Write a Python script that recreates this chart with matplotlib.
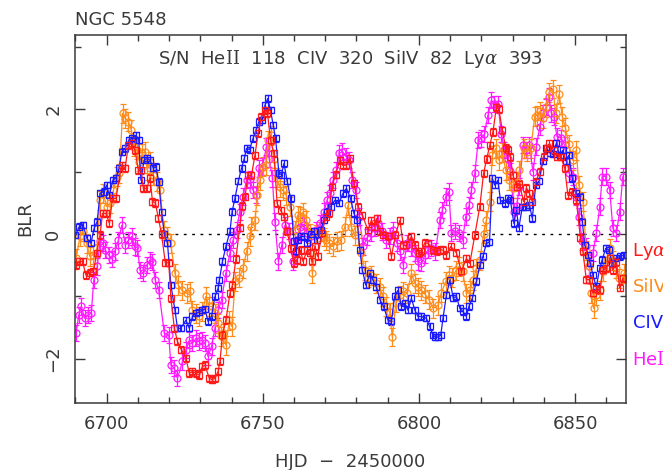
import numpy as np
import matplotlib
matplotlib.use("Agg")
import matplotlib.pyplot as plt
from matplotlib.ticker import MultipleLocator

plt.rcParams["font.family"] = "DejaVu Sans"
plt.rcParams["mathtext.fontset"] = "custom"
plt.rcParams["mathtext.rm"] = "DejaVu Serif"
plt.rcParams["mathtext.it"] = "DejaVu Serif:italic"

# HJD - 2450000 and normalised BLR light curves, one set per line
lya_t = [6690.2, 6691.3, 6692.3, 6693.4, 6694.7, 6695.8, 6696.8, 6697.9, 6698.7, 6699.8,
         6700.9, 6701.9, 6703.0, 6704.8, 6705.9, 6707.0, 6708.0, 6709.1, 6710.2, 6711.0,
         6711.8, 6712.9, 6713.9, 6714.7, 6715.6, 6716.6, 6717.6, 6718.8, 6719.9, 6720.6,
         6721.7, 6722.7, 6723.9, 6725.4, 6726.5, 6727.5, 6728.6, 6729.7, 6730.7, 6731.5,
         6732.9, 6733.8, 6734.7, 6735.7, 6736.3, 6737.1, 6738.2, 6739.5, 6740.3, 6741.4,
         6742.6, 6743.5, 6744.3, 6745.3, 6746.4, 6747.5, 6748.5, 6749.6, 6750.7, 6751.5,
         6752.5, 6753.6, 6754.6, 6755.7, 6756.8, 6757.8, 6758.9, 6760.0, 6761.0, 6762.1,
         6762.9, 6764.2, 6765.0, 6765.8, 6766.7, 6767.6, 6769.0, 6770.1, 6771.1, 6772.2,
         6773.3, 6774.7, 6775.6, 6776.6, 6777.9, 6779.2, 6780.5, 6781.9, 6783.7, 6784.8,
         6785.6, 6786.5, 6787.4, 6788.5, 6790.1, 6791.2, 6792.5, 6793.9, 6795.0, 6796.0,
         6797.6, 6798.7, 6800.1, 6800.8, 6801.9, 6803.0, 6804.5, 6805.7, 6806.8, 6807.7,
         6808.8, 6810.2, 6812.0, 6813.6, 6815.2, 6816.3, 6817.9, 6819.5, 6820.7, 6821.7,
         6822.7, 6823.7, 6824.8, 6825.6, 6826.7, 6827.8, 6828.6, 6829.3, 6830.1, 6831.4,
         6832.2, 6833.5, 6834.4, 6835.4, 6836.3, 6837.4, 6838.7, 6839.9, 6841.0, 6841.8,
         6843.1, 6844.2, 6845.4, 6846.7, 6847.7, 6849.1, 6850.4, 6851.7, 6852.5, 6853.6,
         6854.6, 6855.7, 6856.8, 6857.9, 6858.9, 6860.0, 6861.1, 6862.1, 6863.2, 6864.3,
         6865.3]
lya = [-0.50, -0.44, -0.44, -0.66, -0.62, -0.60, -0.31, -0.02, 0.33, 0.33,
       0.17, 0.57, 0.57, 1.10, 1.05, 1.42, 1.45, 1.34, 1.02, 1.02,
       0.73, 0.73, 0.90, 0.52, 0.50, 0.25, 0.00, -0.46, -0.46, -1.03,
       -1.51, -1.72, -1.85, -1.99, -2.23, -2.20, -2.23, -2.26, -2.12, -2.10,
       -2.31, -2.33, -2.31, -2.20, -2.04, -1.62, -1.38, -0.95, -0.82, -0.40,
       0.10, 0.45, 0.60, 0.94, 0.94, 1.26, 1.61, 1.88, 1.98, 1.94,
       1.50, 1.29, 0.49, 0.38, 0.28, 0.05, -0.23, -0.47, -0.42, -0.26,
       -0.44, -0.26, -0.30, -0.44, -0.20, -0.36, 0.01, 0.28, 0.33, 0.76,
       0.95, 1.18, 1.10, 1.10, 1.21, 0.81, 0.44, 0.30, 0.06, 0.22,
       0.12, 0.25, 0.04, -0.01, -0.04, -0.36, -0.01, 0.22, -0.18, -0.18,
       -0.04, -0.18, -0.31, -0.28, -0.14, -0.15, -0.26, -0.28, -0.25, -0.26,
       -0.34, -0.20, -0.30, -0.60, -0.39, -0.47, -0.02, 0.44, 0.97, 1.20,
       1.42, 1.63, 2.03, 2.00, 1.66, 1.38, 1.35, 1.23, 0.94, 0.76,
       0.80, 0.52, 0.74, 0.65, 0.52, 0.84, 1.00, 1.24, 1.37, 1.45,
       1.34, 1.24, 1.24, 1.05, 0.62, 0.68, 0.54, -0.06, -0.28, -0.73,
       -0.73, -0.95, -0.88, -0.90, -0.58, -0.55, -0.39, -0.58, -0.45, -0.86,
       -0.71]

siiv_t = [6690.2, 6691.5, 6692.4, 6693.6, 6694.7, 6695.7, 6696.8, 6697.9, 6699.0, 6700.0,
          6701.1, 6702.2, 6703.3, 6704.1, 6705.1, 6706.0, 6707.0, 6707.9, 6708.8, 6709.6,
          6710.5, 6711.5, 6712.2, 6713.0, 6713.9, 6714.9, 6716.0, 6717.1, 6718.4, 6719.5,
          6720.5, 6721.9, 6723.0, 6724.1, 6725.6, 6726.6, 6727.5, 6728.6, 6729.6, 6730.7,
          6731.8, 6732.9, 6733.8, 6734.7, 6735.7, 6736.5, 6737.4, 6738.2, 6739.3, 6740.1,
          6741.2, 6742.5, 6743.7, 6744.8, 6745.9, 6746.4, 6747.5, 6748.3, 6749.1, 6750.2,
          6751.0, 6751.7, 6752.6, 6753.5, 6754.5, 6755.5, 6756.5, 6757.5, 6758.7, 6760.3,
          6761.2, 6761.9, 6762.9, 6764.0, 6765.0, 6765.9, 6767.2, 6768.5, 6769.6, 6770.4,
          6771.3, 6772.5, 6773.8, 6775.0, 6776.3, 6777.3, 6778.3, 6779.4, 6780.5, 6781.6,
          6782.6, 6783.6, 6784.8, 6786.4, 6787.4, 6788.5, 6789.6, 6790.6, 6791.5, 6792.6,
          6793.8, 6795.0, 6796.3, 6797.6, 6798.7, 6799.8, 6800.8, 6801.9, 6803.2, 6804.5,
          6806.1, 6807.2, 6808.6, 6809.6, 6810.7, 6811.9, 6812.9, 6814.0, 6815.2, 6816.3,
          6817.4, 6818.4, 6819.5, 6820.7, 6821.6, 6822.7, 6823.5, 6824.6, 6825.6, 6826.7,
          6827.8, 6828.9, 6830.1, 6831.4, 6832.2, 6833.5, 6834.5, 6835.8, 6837.1, 6837.9,
          6838.9, 6839.8, 6840.8, 6841.8, 6842.9, 6843.8, 6844.9, 6845.9, 6846.9, 6848.0,
          6849.2, 6850.4, 6851.2, 6852.5, 6853.6, 6854.6, 6855.2, 6855.9, 6856.8, 6857.9,
          6859.0, 6860.2, 6861.3, 6862.3, 6863.1, 6864.0, 6865.8]
siiv = [-0.39, -0.04, 0.04, -0.15, -0.36, -0.33, -0.31, 0.54, 0.65, 0.44,
        0.49, 0.70, 0.92, 0.97, 1.93, 1.85, 1.80, 1.67, 1.40, 1.35,
        1.16, 1.29, 1.32, 1.02, 1.16, 0.94, 0.84, 0.70, 0.06, -0.04,
        -0.15, -0.63, -0.82, -0.90, -0.95, -0.92, -1.22, -1.27, -1.32, -1.24,
        -1.00, -1.16, -1.16, -1.27, -1.43, -1.64, -1.59, -1.78, -1.38, -1.48,
        -0.76, -0.70, -0.55, -0.28, -0.04, 0.12, 0.22, 0.62, 0.86, 1.08,
        1.10, 1.50, 1.58, 1.20, 0.90, 0.75, 0.70, 0.62, 0.44, 0.06,
        0.30, 0.28, 0.35, 0.22, 0.01, -0.63, 0.00, 0.04, -0.05, -0.10,
        -0.15, -0.20, -0.12, -0.10, 0.12, 0.46, 0.12, -0.02, -0.02, -0.31,
        -0.58, -0.70, -0.66, -0.79, -0.85, -1.00, -1.16, -1.25, -1.65, -1.10,
        -0.98, -0.92, -0.95, -0.63, -0.79, -0.85, -0.90, -0.96, -1.05, -1.19,
        -1.14, -0.94, -0.76, -0.66, -0.70, -0.58, -0.52, -0.60, -0.95, -0.90,
        -0.74, -0.55, -0.42, 0.00, 0.22, 0.52, 1.26, 1.37, 1.18, 1.30,
        1.02, 0.86, 0.73, 0.84, 1.02, 1.37, 1.32, 1.37, 1.88, 1.90,
        1.97, 1.85, 2.03, 2.27, 2.32, 1.93, 2.24, 1.88, 1.70, 1.44,
        1.18, 1.34, 0.78, 0.52, -0.26, -0.52, -0.95, -1.19, -0.98, -0.90,
        -0.60, -0.42, -0.23, -0.42, -0.55, -0.71, -0.63]

civ_t = [6690.0, 6691.3, 6692.5, 6693.7, 6695.0, 6696.0, 6697.0, 6697.9, 6699.1, 6700.0,
         6700.9, 6702.0, 6703.0, 6704.0, 6704.9, 6706.0, 6707.1, 6708.1, 6709.4, 6710.3,
         6711.0, 6712.0, 6713.0, 6713.9, 6715.0, 6715.8, 6716.7, 6717.6, 6718.5, 6719.5,
         6720.6, 6721.9, 6722.7, 6723.7, 6725.4, 6726.5, 6727.5, 6728.6, 6729.6, 6730.7,
         6731.5, 6732.5, 6733.6, 6734.7, 6735.7, 6736.1, 6737.1, 6738.2, 6739.5, 6740.2,
         6741.1, 6742.2, 6743.2, 6744.1, 6744.8, 6745.8, 6746.9, 6747.8, 6748.8, 6749.9,
         6750.7, 6751.6, 6752.5, 6753.3, 6754.1, 6755.2, 6756.0, 6756.8, 6757.8, 6758.9,
         6760.0, 6760.5, 6761.3, 6762.1, 6763.2, 6764.2, 6765.3, 6766.4, 6767.4, 6768.5,
         6769.6, 6770.6, 6771.7, 6773.1, 6774.4, 6775.7, 6776.8, 6778.1, 6779.2, 6780.2,
         6781.1, 6781.9, 6783.0, 6784.3, 6785.3, 6786.4, 6787.6, 6788.7, 6790.1, 6791.2,
         6792.2, 6793.3, 6794.4, 6795.5, 6796.5, 6797.6, 6798.7, 6799.7, 6800.8, 6802.4,
         6803.4, 6804.5, 6805.3, 6806.1, 6807.0, 6807.7, 6808.8, 6809.9, 6811.0, 6812.0,
         6813.1, 6814.1, 6815.2, 6816.0, 6817.1, 6818.4, 6819.5, 6820.5, 6821.6, 6822.6,
         6823.5, 6824.3, 6825.3, 6826.1, 6827.5, 6828.4, 6829.3, 6830.4, 6831.2, 6832.0,
         6833.1, 6834.2, 6835.4, 6836.3, 6837.4, 6838.5, 6839.7, 6840.8, 6841.9, 6842.9,
         6844.0, 6845.1, 6846.1, 6847.0, 6848.0, 6849.1, 6850.2, 6851.5, 6852.3, 6853.1,
         6854.2, 6854.9, 6855.7, 6856.8, 6857.9, 6858.7, 6859.8, 6860.8, 6861.9, 6863.2,
         6864.3, 6865.6]
civ = [-0.02, 0.12, 0.14, -0.07, -0.15, 0.09, 0.20, 0.65, 0.68, 0.78,
       0.62, 0.86, 0.90, 1.05, 1.32, 1.37, 1.50, 1.53, 1.58, 1.50,
       0.86, 1.18, 1.21, 1.18, 1.05, 1.08, 0.84, 0.35, 0.00, -0.15,
       -0.82, -1.22, -1.51, -1.51, -1.38, -1.51, -1.32, -1.27, -1.25, -1.22,
       -1.20, -1.40, -1.32, -1.00, -0.87, -0.74, -0.44, -0.20, 0.04, 0.36,
       0.57, 0.85, 1.05, 1.21, 1.37, 1.35, 1.53, 1.66, 1.80, 1.82,
       2.06, 2.17, 1.98, 1.75, 1.53, 0.97, 0.95, 1.13, 0.85, 0.57,
       -0.12, -0.28, -0.10, -0.04, -0.04, -0.15, 0.00, 0.04, -0.10, 0.06,
       0.22, 0.36, 0.44, 0.54, 0.50, 0.65, 0.73, 0.57, 0.33, 0.22,
       -0.26, -0.58, -0.82, -0.63, -0.74, -0.85, -1.06, -1.16, -1.38, -1.40,
       -1.00, -0.90, -1.16, -1.11, -1.22, -1.03, -1.22, -1.32, -1.32, -1.35,
       -1.48, -1.62, -1.65, -1.65, -1.62, -1.35, -0.98, -0.74, -1.03, -1.00,
       -1.19, -1.24, -1.32, -1.16, -1.03, -0.76, -0.50, -0.36, -0.15, -0.13,
       0.89, 0.78, 0.86, 0.54, 0.49, 0.57, 0.54, 0.17, 0.38, 0.10,
       0.43, 0.44, 0.46, 0.25, 0.78, 0.85, 1.17, 1.37, 1.30, 1.28,
       1.45, 1.26, 1.34, 1.17, 1.26, 0.89, 0.65, 0.60, 0.20, -0.18,
       -0.34, -0.47, -0.66, -0.84, -0.55, -0.41, -0.23, -0.25, -0.47, -0.39,
       -0.36, -0.34]

heii_t = [6690.2, 6691.1, 6691.9, 6693.0, 6694.0, 6695.1, 6695.9, 6697.0, 6697.9, 6698.8,
          6699.6, 6700.7, 6701.7, 6702.6, 6703.8, 6704.9, 6706.0, 6707.0, 6708.1, 6709.0,
          6709.9, 6710.7, 6711.8, 6712.8, 6713.9, 6714.7, 6715.6, 6716.7, 6718.5, 6719.9,
          6720.6, 6721.7, 6722.7, 6724.3, 6725.4, 6726.5, 6727.5, 6728.6, 6729.6, 6730.7,
          6731.5, 6732.5, 6733.6, 6734.7, 6735.7, 6736.8, 6738.2, 6739.5, 6740.5, 6741.6,
          6742.6, 6743.7, 6744.8, 6745.8, 6746.9, 6748.0, 6748.8, 6749.9, 6751.2, 6752.1,
          6753.1, 6753.9, 6755.0, 6756.1, 6757.1, 6758.4, 6759.8, 6760.9, 6762.0, 6763.1,
          6764.2, 6765.6, 6767.0, 6768.3, 6769.6, 6770.6, 6771.5, 6772.5, 6773.6, 6774.5,
          6775.5, 6776.5, 6777.6, 6778.7, 6779.8, 6780.9, 6782.1, 6783.5, 6784.8, 6785.8,
          6786.9, 6788.3, 6789.5, 6790.6, 6791.7, 6793.0, 6794.0, 6795.0, 6796.3, 6797.6,
          6798.7, 6799.7, 6800.8, 6801.9, 6803.0, 6804.0, 6805.3, 6806.7, 6807.5, 6808.6,
          6809.6, 6810.4, 6811.6, 6812.8, 6814.0, 6815.0, 6816.1, 6816.8, 6817.9, 6819.0,
          6820.0, 6821.0, 6822.1, 6823.2, 6824.2, 6825.3, 6826.4, 6827.4, 6828.5, 6829.3,
          6830.4, 6831.3, 6832.2, 6833.3, 6834.3, 6835.4, 6836.5, 6837.6, 6838.7, 6839.8,
          6840.8, 6841.6, 6842.4, 6843.2, 6844.2, 6845.5, 6846.7, 6848.1, 6849.2, 6850.4,
          6851.2, 6852.3, 6853.6, 6854.4, 6855.7, 6856.8, 6857.9, 6858.7, 6859.8, 6861.1,
          6862.1, 6863.2, 6864.3, 6865.3]
heii = [-1.59, -1.30, -1.16, -1.35, -1.30, -1.27, -0.74, -0.52, -0.12, -0.15,
        -0.26, -0.34, -0.40, -0.28, -0.10, 0.14, -0.18, -0.10, -0.04, -0.20,
        -0.22, -0.58, -0.63, -0.50, -0.42, -0.45, -0.74, -0.90, -1.59, -1.62,
        -2.10, -2.15, -2.31, -2.04, -1.86, -1.70, -1.75, -1.67, -1.72, -1.70,
        -1.75, -1.96, -1.80, -1.51, -1.22, -1.06, -0.63, -0.31, -0.10, 0.06,
        0.35, 0.60, 0.86, 0.88, 0.70, 0.62, 1.05, 1.08, 1.40, 1.20,
        0.89, 0.20, -0.44, -0.18, 0.14, 0.05, -0.44, -0.10, 0.12, 0.15,
        0.01, -0.04, 0.06, 0.17, 0.36, 0.54, 0.65, 0.86, 1.02, 1.29,
        1.32, 1.25, 1.18, 0.86, 0.70, 0.28, -0.20, -0.05, 0.01, 0.10,
        0.17, 0.04, -0.10, -0.03, 0.06, -0.15, -0.28, -0.50, -0.15, -0.23,
        -0.31, -0.44, -0.47, -0.34, -0.25, -0.23, -0.28, 0.22, 0.38, 0.60,
        0.68, 0.01, 0.05, 0.01, -0.10, 0.28, 0.46, 0.70, 0.97, 1.50,
        1.53, 1.60, 1.90, 2.14, 2.08, 2.08, 1.60, 1.35, 1.20, 1.01,
        0.36, 0.45, 0.76, 1.42, 1.35, 1.42, 1.00, 1.40, 1.72, 1.94,
        2.03, 2.20, 1.93, 1.88, 1.56, 1.54, 1.42, 0.97, 0.92, 0.60,
        0.28, -0.12, -0.20, -0.52, -0.31, 0.01, 0.44, 0.92, 0.92, 0.70,
        0.09, 0.01, 0.36, 0.92]

# typical 1-sigma uncertainty of each line
lya_err = 0.06
civ_err = 0.05
siiv_err = 0.15
heii_err = 0.13

c_lya = "#ff1a1a"
c_siiv = "#ff8c1a"
c_civ = "#1a1aff"
c_heii = "#ff1aff"
txt = "#3a3a3a"
fs = 13

fig = plt.figure(figsize=(6.63, 4.70), dpi=100)
ax = fig.add_axes([0.1127, 0.1432, 0.8310, 0.7830])

ax.axhline(0, color="k", ls=(0, (2, 4)), lw=1, zorder=1)

def curve(t, y, err, col, mk, ms):
    ax.errorbar(t, y, yerr=err, color=col, lw=0.9, marker=mk, ms=ms,
                mfc="none", mec=col, mew=0.9, elinewidth=0.9,
                capsize=2.5, capthick=0.9, zorder=2)

curve(heii_t, heii, heii_err, c_heii, "o", 5)
curve(siiv_t, siiv, siiv_err, c_siiv, "o", 5)
curve(civ_t, civ, civ_err, c_civ, "s", 4.2)
curve(lya_t, lya, lya_err, c_lya, "s", 4.2)

ax.set_xlim(6689.8, 6866.2)
ax.set_ylim(-2.70, 3.19)
ax.xaxis.set_major_locator(MultipleLocator(50))
ax.xaxis.set_minor_locator(MultipleLocator(10))
ax.yaxis.set_major_locator(MultipleLocator(2))
ax.yaxis.set_minor_locator(MultipleLocator(1))
ax.tick_params(which="both", direction="in", top=True, right=True,
               color=txt, width=1, labelsize=fs, labelcolor=txt)
ax.tick_params(which="major", length=7.5)
ax.tick_params(which="minor", length=4.3)
ax.tick_params(axis="x", pad=9)
ax.tick_params(axis="y", pad=9)
for lab in ax.get_yticklabels():
    lab.set_rotation(90)
    lab.set_va("center")
for s in ax.spines.values():
    s.set_color(txt)
    s.set_linewidth(1.1)

ax.set_xlabel("HJD  \u2212  2450000", fontsize=fs, color=txt, labelpad=14)
ax.set_ylabel("BLR", fontsize=fs, color=txt, labelpad=7)

fig.text(0.113, 0.947, "NGC 5548", fontsize=fs, color=txt, va="baseline")
ax.text(0.5, 0.92, r"S/N  He$\mathrm{II}$  118  CIV  320  SiIV  82  Ly$\alpha$  393",
        transform=ax.transAxes, ha="center", va="baseline", fontsize=fs, color=txt)

# line names in the right margin, running off the page edge
names = [r"Ly$\alpha$", "SiIV", "CIV", r"He$\mathrm{II}$"]
cols = [c_lya, c_siiv, c_civ, c_heii]
ypix = [251, 287, 323, 360]
for nm, cl, yp in zip(names, cols, ypix):
    fig.text(632.5 / 663, 1 - yp / 470, nm, fontsize=fs, color=cl, va="center")

fig.savefig("out.png", dpi=100)
